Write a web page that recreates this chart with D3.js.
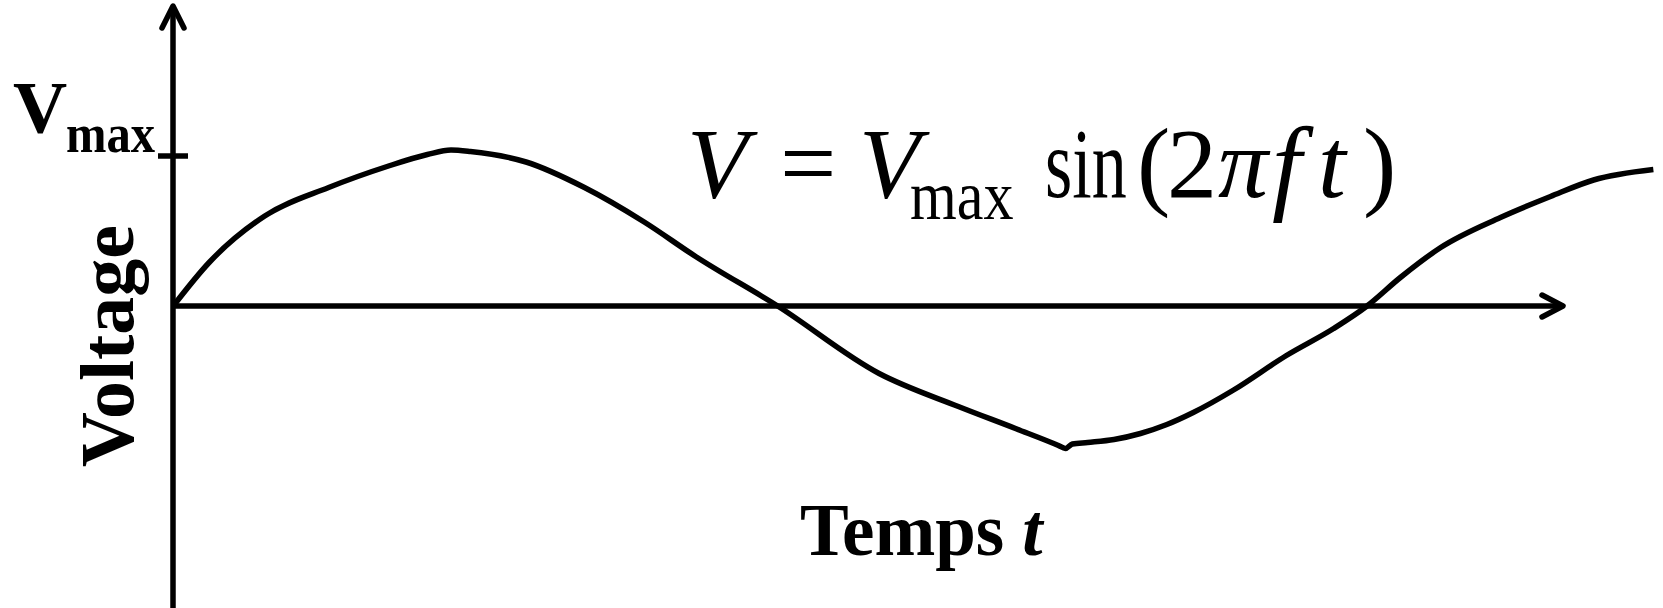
<!DOCTYPE html>
<html>
<head>
<meta charset="utf-8">
<script src="https://cdn.jsdelivr.net/npm/d3@7"></script>
<style>
  body { margin: 0; background: #fff; }
  svg { display: block; }
</style>
</head>
<body>
<svg id="chart" width="1663" height="608"></svg>
<script>
// hand drawn sine sketch
// time in arbitrary units (axis runs 0..10), voltage in units of Vmax
var timeValues = [0.01, 0.26, 0.66, 1.12, 1.54, 1.83, 2.00, 2.14, 2.54, 2.96, 3.39, 3.76,
                  4.35, 5.08, 5.65, 6.07, 6.37, 6.42, 6.47, 6.58, 6.77, 6.96, 7.15, 7.34, 7.63,
                  8.01, 8.35, 8.59, 8.83, 9.12, 9.55, 9.91, 10.22, 10.65];
var voltValues = [0.01, 0.29, 0.60, 0.79, 0.93, 1.01, 1.04, 1.03, 0.96, 0.79, 0.56, 0.33,
                  0.00, -0.45, -0.67, -0.82, -0.93, -0.95, -0.92, -0.91, -0.89, -0.85, -0.79,
                  -0.71, -0.56, -0.33, -0.15, 0.00, 0.19, 0.39, 0.59, 0.73, 0.84, 0.91];
var vMax = 1;
var tEnd = 10;

var serif = "Liberation Serif, Times New Roman, serif";
var lineWidth = 5.5;

var svg = d3.select("#chart");
var width = +svg.attr("width"),
    height = +svg.attr("height");

var xScale = d3.scaleLinear().domain([0, tEnd]).range([173, 1563]),
    yScale = d3.scaleLinear().domain([-vMax, vMax]).range([456, 156]);

var x0 = xScale(0), y0 = yScale(0), xEnd = xScale(tEnd);

// axes
var axes = svg.append("g")
    .style("stroke", "#000")
    .style("stroke-width", lineWidth)
    .style("fill", "none")
    .style("stroke-linecap", "round")
    .style("stroke-linejoin", "round");

axes.append("line")
    .attr("x1", x0).attr("y1", height)
    .attr("x2", x0).attr("y2", 6)
    .style("stroke-linecap", "butt");
axes.append("path")
    .attr("d", "M" + (x0 - 11) + "," + 28 + "L" + x0 + "," + 6 + "L" + (x0 + 11) + "," + 28);

axes.append("line")
    .attr("x1", x0).attr("y1", y0)
    .attr("x2", xEnd).attr("y2", y0)
    .style("stroke-linecap", "butt");
axes.append("path")
    .attr("d", "M" + (xEnd - 21) + "," + (y0 - 11) + "L" + xEnd + "," + y0 +
        "L" + (xEnd - 21) + "," + (y0 + 11));

// Vmax tick
axes.append("line")
    .attr("x1", x0 - 15).attr("y1", yScale(vMax))
    .attr("x2", x0 + 15).attr("y2", yScale(vMax))
    .style("stroke-linecap", "butt");

// the curve
var line = d3.line()
    .x(function (d, i) { return xScale(timeValues[i]); })
    .y(function (d) { return yScale(d); })
    .curve(d3.curveMonotoneX);

svg.append("path")
    .datum(voltValues)
    .attr("d", line)
    .style("fill", "none")
    .style("stroke", "#000")
    .style("stroke-width", lineWidth)
    .style("stroke-linejoin", "round");

// Vmax label
svg.append("text")
    .attr("x", 13).attr("y", 133)
    .style("font-family", serif)
    .style("font-weight", "bold")
    .style("font-size", "75px")
    .text("V");
svg.append("text")
    .attr("transform", "translate(66,152)scale(0.9,1)")
    .style("font-family", serif)
    .style("font-weight", "bold")
    .style("font-size", "54px")
    .text("max");

// Y label
svg.append("text")
    .attr("text-anchor", "middle")
    .attr("transform", "translate(133,346)rotate(-90)")
    .style("font-family", serif)
    .style("font-weight", "bold")
    .style("font-size", "76px")
    .text("Voltage");

// X label
var xl = svg.append("text")
    .attr("x", 800).attr("y", 555)
    .style("font-family", serif)
    .style("font-weight", "bold")
    .style("font-size", "73px");
xl.append("tspan").text("Temps");
xl.append("tspan").attr("dx", 18).style("font-style", "italic").text("t");

// formula  V = Vmax sin(2πft)
var formula = [
    { s: "V", x: 687, y: 197, size: 100, italic: true, sx: 1 },
    { s: "=", x: 780, y: 197, size: 100, italic: false, sx: 1 },
    { s: "V", x: 859, y: 197, size: 100, italic: true, sx: 1 },
    { s: "max", x: 910, y: 219, size: 70, italic: false, sx: 0.86 },
    { s: "sin", x: 1045, y: 197, size: 100, italic: false, sx: 0.70 },
    { s: "(", x: 1137, y: 197, size: 100, italic: false, sx: 1 },
    { s: "2", x: 1167, y: 197, size: 100, italic: false, sx: 1 },
    { s: "π", x: 1218, y: 197, size: 100, italic: true, sx: 1 },
    { s: "f", x: 1272, y: 200, size: 106, italic: true, sx: 1 },
    { s: "t", x: 1318, y: 197, size: 100, italic: true, sx: 1 },
    { s: ")", x: 1363, y: 197, size: 100, italic: false, sx: 1 }
];
svg.append("g")
    .selectAll("text")
    .data(formula)
    .enter()
    .append("text")
    .attr("transform", function (d) {
        return "translate(" + d.x + "," + d.y + ")scale(" + d.sx + ",1)";
    })
    .style("font-family", serif)
    .style("font-size", function (d) { return d.size + "px"; })
    .style("font-style", function (d) { return d.italic ? "italic" : "normal"; })
    .text(function (d) { return d.s; });
</script>
</body>
</html>
